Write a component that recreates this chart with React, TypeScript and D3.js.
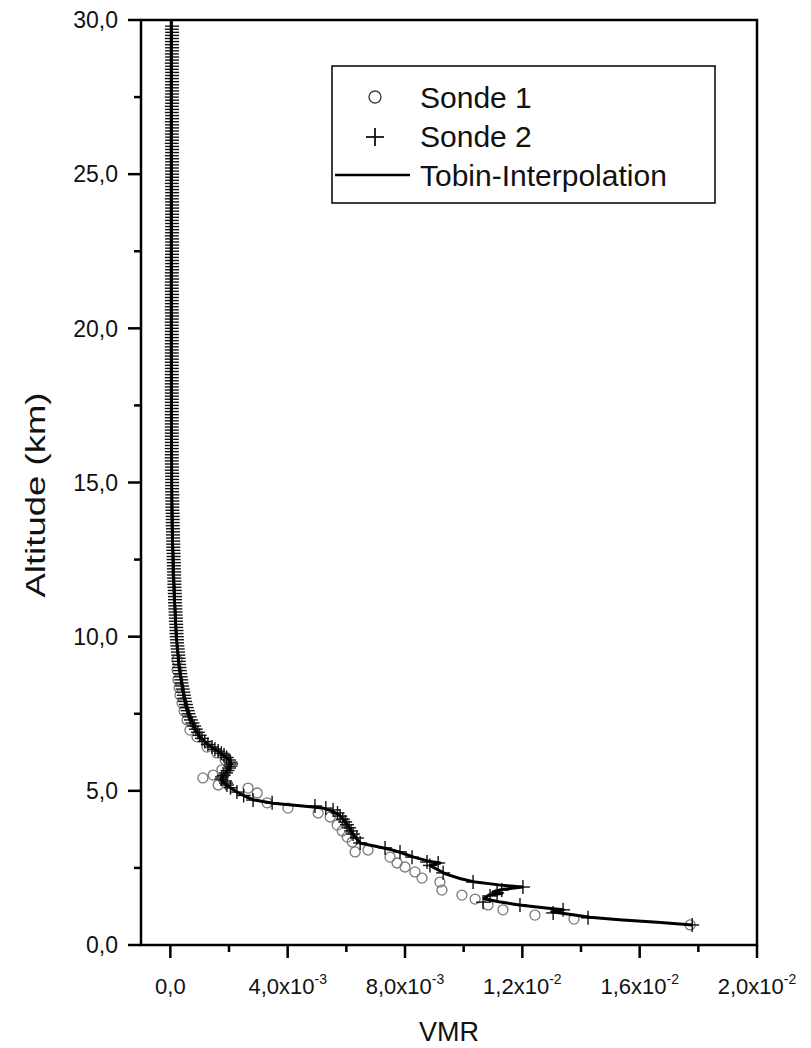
import React from "react";
import * as d3 from "d3";

// ---------- data (VMR in units of 1e-3, altitude in km) ----------
// Sonde 2, upper part: regular 0.1 km levels starting at 29.8 km
const sonde2UpperTop = 29.8;
const sonde2UpperStep = 0.1;
const sonde2UpperVmr = [
  0.06, 0.05, 0.06, 0.06, 0.05, 0.06, 0.05, 0.06, 0.06, 0.05,
  0.06, 0.06, 0.05, 0.06, 0.05, 0.06, 0.06, 0.05, 0.06, 0.06,
  0.05, 0.06, 0.06, 0.05, 0.06, 0.06, 0.05, 0.06, 0.05, 0.06,
  0.06, 0.05, 0.06, 0.06, 0.06, 0.05, 0.06, 0.06, 0.05, 0.06,
  0.06, 0.06, 0.05, 0.06, 0.06, 0.06, 0.05, 0.06, 0.06, 0.06,
  0.06, 0.05, 0.06, 0.06, 0.06, 0.06, 0.05, 0.06, 0.06, 0.06,
  0.06, 0.06, 0.06, 0.05, 0.06, 0.06, 0.06, 0.06, 0.05, 0.06,
  0.06, 0.06, 0.06, 0.06, 0.06, 0.05, 0.06, 0.06, 0.06, 0.06,
  0.05, 0.05, 0.06, 0.05, 0.05, 0.05, 0.05, 0.06, 0.05, 0.05,
  0.05, 0.05, 0.05, 0.05, 0.06, 0.05, 0.05, 0.05, 0.05, 0.05,
  0.05, 0.05, 0.05, 0.05, 0.05, 0.05, 0.05, 0.05, 0.05, 0.05,
  0.05, 0.05, 0.05, 0.05, 0.05, 0.05, 0.05, 0.05, 0.05, 0.05,
  0.05, 0.05, 0.05, 0.05, 0.05, 0.05, 0.05, 0.05, 0.05, 0.05,
  0.05, 0.05, 0.05, 0.05, 0.05, 0.05, 0.05, 0.05, 0.05, 0.05,
  0.05, 0.05, 0.05, 0.06, 0.05, 0.06, 0.06, 0.06, 0.06, 0.06,
  0.06, 0.06, 0.07, 0.06, 0.07, 0.07, 0.07, 0.07, 0.08, 0.08,
  0.08, 0.08, 0.08, 0.09, 0.09, 0.09, 0.09, 0.10, 0.10, 0.10,
  0.10, 0.11, 0.11, 0.11, 0.12, 0.12, 0.12, 0.13, 0.13, 0.13,
  0.14, 0.14, 0.14, 0.15, 0.15, 0.16, 0.16, 0.16, 0.17, 0.17,
  0.18, 0.18, 0.19, 0.19, 0.20, 0.20, 0.21, 0.21, 0.22, 0.23,
  0.23, 0.24, 0.25, 0.26, 0.27, 0.28, 0.29, 0.30, 0.31, 0.32,
  0.34, 0.35, 0.37, 0.38, 0.40, 0.42, 0.44, 0.46, 0.48, 0.50,
  0.53, 0.56, 0.59, 0.62, 0.66, 0.70, 0.75, 0.81,
];

// Sonde 2, lower part: [altitude km, VMR 1e-3]
const sonde2Lower: [number, number][] = [
  [7.0, 0.87], [6.9, 0.94], [6.8, 1.0], [6.7, 1.08], [6.6, 1.17], [6.5, 1.28],
  [6.42, 1.42], [6.35, 1.52], [6.29, 1.63], [6.22, 1.74], [6.16, 1.83], [6.08, 1.92],
  [6.0, 2.0], [5.93, 2.05], [5.87, 2.07], [5.8, 2.05], [5.74, 2.0], [5.66, 1.95],
  [5.58, 1.9], [5.5, 1.82], [5.45, 1.76], [5.38, 1.74], [5.32, 1.87], [5.25, 1.9],
  [5.19, 1.93], [5.1, 2.05], [4.96, 2.27], [4.85, 2.5], [4.7, 2.82], [4.61, 3.47],
  [4.51, 4.93], [4.44, 5.3], [4.38, 5.55], [4.28, 5.7], [4.18, 5.79], [4.08, 5.88],
  [3.99, 5.96], [3.9, 6.02], [3.8, 6.09], [3.7, 6.16], [3.6, 6.23], [3.47, 6.36],
  [3.31, 6.47], [3.15, 7.32], [3.02, 7.83], [2.85, 8.24], [2.69, 8.75], [2.66, 9.13],
  [2.58, 8.85], [2.34, 9.3], [2.04, 10.32], [1.88, 12.02], [1.78, 11.3], [1.69, 11.14],
  [1.59, 10.9], [1.39, 10.66], [1.3, 11.92], [1.14, 13.39], [1.04, 13.05], [0.88, 14.24],
  [0.65, 17.79],
];

// Sonde 1: [altitude km, VMR 1e-3]
const sonde1: [number, number][] = [
  [9.24, 0.23], [8.92, 0.23], [8.6, 0.26], [8.34, 0.3], [8.11, 0.33], [7.85, 0.4],
  [7.59, 0.47], [7.3, 0.57], [6.97, 0.67], [6.75, 0.91], [6.42, 1.25], [6.23, 1.59],
  [6.0, 1.87], [5.68, 1.76], [5.51, 1.46], [5.42, 1.11], [5.19, 1.63], [5.09, 2.65],
  [4.93, 2.96], [4.61, 3.3], [4.44, 4.01], [4.28, 5.04], [4.15, 5.45], [3.89, 5.69],
  [3.7, 5.86], [3.5, 6.03], [3.34, 6.2], [3.02, 6.3], [3.08, 6.74], [2.85, 7.49],
  [2.66, 7.73], [2.53, 8.0], [2.37, 8.34], [2.17, 8.58], [2.04, 9.19], [1.78, 9.26],
  [1.62, 9.94], [1.49, 10.39], [1.3, 10.83], [1.14, 11.34], [0.97, 12.43], [0.84, 13.76],
  [0.65, 17.72],
];

// Tobin interpolation: [altitude km, VMR 1e-3]
const tobin: [number, number][] = [
  [30, 0.03], [25, 0.03], [20, 0.03], [16, 0.04], [14, 0.05], [12, 0.1], [11, 0.15],
  [10, 0.2], [9, 0.3], [8.5, 0.39], [8, 0.48], [7.5, 0.62], [7, 0.86], [6.75, 1.0],
  [6.5, 1.28], [6.2, 1.75], [6, 2.0], [5.87, 2.08], [5.7, 1.98], [5.5, 1.8], [5.38, 1.72],
  [5.25, 1.85], [5.1, 2.05], [4.96, 2.27], [4.8, 2.6], [4.7, 2.85], [4.6, 3.5], [4.5, 4.6],
  [4.44, 5.2], [4.35, 5.5], [4.2, 5.78], [4.0, 5.95], [3.8, 6.1], [3.5, 6.3], [3.3, 6.48],
  [3.2, 7.0], [3.1, 7.5], [3.0, 7.85], [2.85, 8.3], [2.72, 8.8], [2.66, 9.2], [2.58, 8.85],
  [2.45, 9.1], [2.3, 9.4], [2.15, 9.9], [2.04, 10.4], [1.95, 11.2], [1.88, 12.0], [1.8, 11.3],
  [1.72, 11.0], [1.67, 11.3], [1.62, 10.85], [1.5, 10.7], [1.4, 11.2], [1.3, 11.9],
  [1.2, 12.8], [1.14, 13.4], [1.08, 13.0], [1.0, 13.6], [0.9, 14.3], [0.82, 15.3],
  [0.74, 16.6], [0.65, 17.8],
];

// Axis ticks
const yMajorTicks = [0, 5, 10, 15, 20, 25, 30];
const yTickLabels = ["0,0", "5,0", "10,0", "15,0", "20,0", "25,0", "30,0"];
const yMinorTicks = [2.5, 7.5, 12.5, 17.5, 22.5, 27.5];
const xMajorTicks = [0, 4, 8, 12, 16, 20];
const xTickMantissa = ["0,0", "4,0x10", "8,0x10", "1,2x10", "1,6x10", "2,0x10"];
const xTickExponent = ["", "-3", "-3", "-2", "-2", "-2"];
const xMinorTicks = [2, 6, 10, 14, 18];
const legendLabels = ["Sonde 1", "Sonde 2", "Tobin-Interpolation"];

const FONT = "'Liberation Sans', Arial, Helvetica, sans-serif";

export default function App() {
  const W = 811;
  const H = 1048;
  const left = 141, right = 757, top = 20, bottom = 945;
  const x = d3.scaleLinear().domain([-1, 20]).range([left, right]);
  const y = d3.scaleLinear().domain([0, 30]).range([bottom, top]);

  const sonde2: [number, number][] = [
    ...sonde2UpperVmr.map((v, i) => [sonde2UpperTop - i * sonde2UpperStep, v] as [number, number]),
    ...sonde2Lower,
  ];

  const line = d3
    .line<[number, number]>()
    .x((d) => x(d[1]))
    .y((d) => y(d[0]));

  const cross = (cx: number, cy: number, s: number, key: string | number, sw = 1.4) => (
    <g key={key} stroke="#111" strokeWidth={sw}>
      <line x1={cx - s} x2={cx + s} y1={cy} y2={cy} />
      <line x1={cx} x2={cx} y1={cy - s} y2={cy + s} />
    </g>
  );

  return (
    <svg
      width={W}
      height={H}
      style={{ position: "absolute", left: 0, top: 0, background: "#fff" }}
      fontFamily={FONT}
    >
      <rect x={0} y={0} width={W} height={H} fill="#fff" />

      {/* Sonde 1 circles */}
      <g fill="none" stroke="#7a7a7a" strokeWidth={1.3}>
        {sonde1.map((d, i) => (
          <circle key={i} cx={x(d[1])} cy={y(d[0])} r={5} />
        ))}
      </g>

      {/* Sonde 2 crosses */}
      <g>{sonde2.map((d, i) => cross(x(d[1]), y(d[0]), 7, i))}</g>

      {/* Tobin line */}
      <path d={line(tobin) || ""} fill="none" stroke="#000" strokeWidth={3} strokeLinejoin="round" />

      {/* Frame */}
      <rect x={left} y={top} width={right - left} height={bottom - top} fill="none" stroke="#000" strokeWidth={2.5} />

      {/* Y axis ticks */}
      <g stroke="#000" strokeWidth={2.5}>
        {yMajorTicks.map((t) => (
          <line key={"ym" + t} x1={left - 13} x2={left} y1={y(t)} y2={y(t)} />
        ))}
        {yMinorTicks.map((t) => (
          <line key={"yn" + t} x1={left - 7} x2={left} y1={y(t)} y2={y(t)} />
        ))}
      </g>
      <g fontSize={23} textAnchor="end" fill="#111">
        {yMajorTicks.map((t, i) => (
          <text key={"yl" + t} x={118} y={y(t)} dy="0.36em">
            {yTickLabels[i]}
          </text>
        ))}
      </g>

      {/* X axis ticks */}
      <g stroke="#000" strokeWidth={2.5}>
        {xMajorTicks.map((t) => (
          <line key={"xm" + t} x1={x(t)} x2={x(t)} y1={bottom} y2={bottom + 13} />
        ))}
        {xMinorTicks.map((t) => (
          <line key={"xn" + t} x1={x(t)} x2={x(t)} y1={bottom} y2={bottom + 7} />
        ))}
      </g>
      <g fontSize={22} fill="#111" textAnchor="middle">
        {xMajorTicks.map((t, i) => (
          <text key={"xl" + t} x={x(t)} y={994}>
            {xTickMantissa[i]}
            {xTickExponent[i] && (
              <tspan fontSize={14} dy={-10}>
                {xTickExponent[i]}
              </tspan>
            )}
          </text>
        ))}
      </g>

      {/* Axis titles */}
      <text x={449} y={1041} fontSize={27} textAnchor="middle" fill="#111">
        VMR
      </text>
      <text
        transform={`translate(45, 495) rotate(-90)`}
        fontSize={27}
        textAnchor="middle"
        fill="#111"
        textLength={205}
        lengthAdjust="spacingAndGlyphs"
      >
        Altitude  (km)
      </text>

      {/* Legend */}
      <rect x={332} y={66} width={383} height={137} fill="#fff" stroke="#000" strokeWidth={1.5} />
      <circle cx={375} cy={97} r={6} fill="none" stroke="#444" strokeWidth={1.4} />
      {cross(375, 137, 9, "leg", 1.8)}
      <line x1={335} x2={410} y1={175} y2={175} stroke="#000" strokeWidth={2.5} />
      <g fontSize={30} fill="#111">
        <text x={420} y={108}>{legendLabels[0]}</text>
        <text x={420} y={147}>{legendLabels[1]}</text>
        <text x={420} y={186}>{legendLabels[2]}</text>
      </g>
    </svg>
  );
}
